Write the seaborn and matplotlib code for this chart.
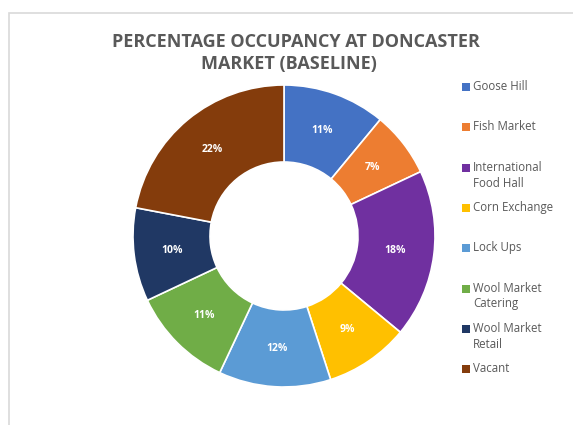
import matplotlib
matplotlib.use("Agg")
import matplotlib.pyplot as plt
import seaborn as sns
from matplotlib.patches import Rectangle

# data
categories = ["Goose Hill", "Fish Market", "International\nFood Hall", "Corn Exchange",
              "Lock Ups", "Wool Market\nCatering", "Wool Market\nRetail", "Vacant"]
shares = [11, 7, 18, 9, 12, 11, 10, 22]
colours = ["#4472C4", "#ED7D31", "#7030A0", "#FFC000",
           "#5B9BD5", "#70AD47", "#203864", "#843C0C"]

sns.set_theme(style="white")
plt.rcParams["font.family"] = ["Open Sans", "DejaVu Sans"]

fig = plt.figure(figsize=(5.73, 4.25), dpi=100)
fig.patch.set_facecolor("white")

# light chart-area border
fig.patches.append(Rectangle((9 / 573, -0.1), 1.5, (425 - 13) / 425 + 0.1,
                             transform=fig.transFigure, fill=False,
                             edgecolor="#d9d9d9", linewidth=1.2))

ax = fig.add_axes([133 / 573, 38 / 425, 302 / 573, 302 / 425])
wedges, texts = ax.pie(shares, colors=colours, startangle=90, counterclock=False,
                       radius=1.0, wedgeprops=dict(width=0.51, edgecolor="white", linewidth=1.2),
                       labels=[f"{v}%" for v in shares], labeldistance=0.745,
                       textprops=dict(color="white", fontsize=7.5, fontweight="bold"))
for t in texts:
    t.set_horizontalalignment("center")
    t.set_verticalalignment("center")
ax.set_aspect("equal")
ax.set_xlim(-1.0, 1.0)
ax.set_ylim(-1.0, 1.0)

fig.text(296 / 573, 1 - 42 / 425, "PERCENTAGE OCCUPANCY AT DONCASTER", ha="center", va="center",
         fontsize=13, fontweight="bold", color="#595959")
fig.text(289 / 573, 1 - 64 / 425, "MARKET (BASELINE)", ha="center", va="center",
         fontsize=13, fontweight="bold", color="#595959")

# legend drawn as squares + text
for i, (lab, col) in enumerate(zip(categories, colours)):
    y = 87 + 40.3 * i
    fig.patches.append(Rectangle((462 / 573, 1 - (y + 4) / 425), 8 / 573, 8 / 425,
                                 transform=fig.transFigure, facecolor=col, edgecolor="none"))
    fig.text(473 / 573, 1 - (y - 7) / 425, lab, ha="left", va="top", fontsize=8.3,
             color="#595959", linespacing=1.3)

fig.savefig("out.png", dpi=100)
